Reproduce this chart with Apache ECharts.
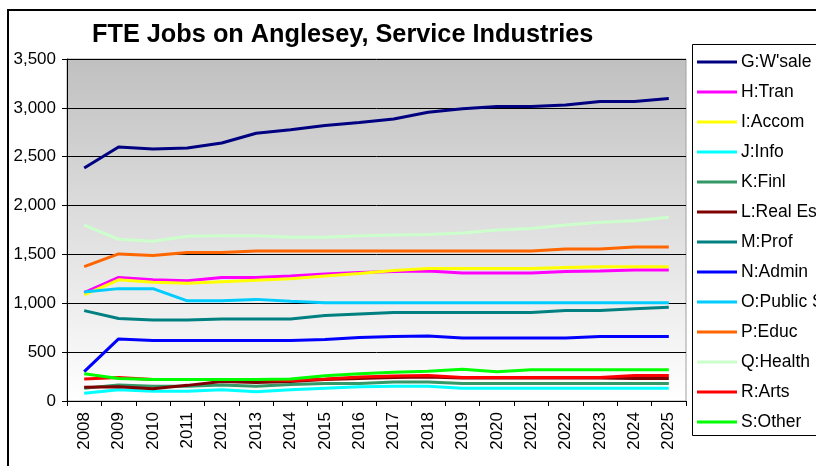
<!DOCTYPE html>
<html>
<head>
<meta charset="utf-8">
<script src="https://cdn.jsdelivr.net/npm/echarts@6/dist/echarts.min.js"></script>
<style>
  html, body { margin: 0; padding: 0; background: #fff; }
  #chart { width: 816px; height: 466px; }
</style>
</head>
<body>
<div id="chart"></div>
<script>
// FTE jobs on Anglesey by service industry, 2008-2025
const years = ['2008','2009','2010','2011','2012','2013','2014','2015','2016','2017','2018','2019','2020','2021','2022','2023','2024','2025'];
const yTicks = [0, 500, 1000, 1500, 2000, 2500, 3000, 3500];

const wsale   = [2385, 2600, 2580, 2590, 2640, 2740, 2775, 2820, 2850, 2885, 2955, 2990, 3015, 3015, 3030, 3065, 3065, 3095];
const tran    = [1110, 1265, 1240, 1230, 1265, 1265, 1280, 1300, 1315, 1325, 1330, 1310, 1310, 1310, 1325, 1330, 1340, 1340];
const accom   = [1085, 1240, 1215, 1205, 1220, 1235, 1250, 1280, 1305, 1335, 1355, 1355, 1355, 1355, 1365, 1375, 1375, 1375];
const info    = [80, 115, 100, 100, 115, 95, 115, 130, 145, 150, 150, 130, 130, 130, 130, 130, 130, 130];
const finl    = [130, 165, 150, 150, 165, 150, 170, 180, 180, 195, 195, 180, 180, 180, 180, 180, 180, 180];
const realEst = [140, 145, 125, 160, 200, 190, 200, 220, 230, 240, 245, 235, 235, 235, 235, 235, 230, 230];
const prof    = [925, 845, 830, 830, 840, 840, 840, 875, 890, 905, 905, 905, 905, 905, 925, 925, 945, 960];
const admin   = [300, 635, 620, 620, 620, 620, 620, 630, 650, 660, 665, 645, 645, 645, 645, 660, 660, 660];
const publicS = [1115, 1150, 1150, 1025, 1025, 1040, 1020, 1005, 1005, 1005, 1005, 1005, 1005, 1005, 1005, 1005, 1005, 1005];
const educ    = [1375, 1505, 1490, 1520, 1520, 1535, 1535, 1535, 1535, 1535, 1535, 1535, 1535, 1535, 1555, 1555, 1575, 1575];
const health  = [1800, 1655, 1635, 1685, 1690, 1690, 1675, 1675, 1690, 1700, 1705, 1720, 1750, 1765, 1800, 1830, 1845, 1880];
const arts    = [225, 240, 220, 220, 220, 220, 210, 225, 245, 255, 260, 240, 240, 240, 240, 240, 260, 260];
const other   = [280, 230, 220, 220, 220, 220, 225, 258, 280, 295, 305, 325, 300, 320, 320, 320, 320, 320];

const seriesNames  = ["G:W'sale", 'H:Tran', 'I:Accom', 'J:Info', 'K:Finl', 'L:Real Est', 'M:Prof', 'N:Admin', 'O:Public S', 'P:Educ', 'Q:Health', 'R:Arts', 'S:Other'];
const seriesData   = [wsale, tran, accom, info, finl, realEst, prof, admin, publicS, educ, health, arts, other];
const seriesColors = ['#000080', '#ff00ff', '#ffff00', '#00ffff', '#339966', '#800000', '#008080', '#0000ff', '#00ccff', '#ff6600', '#ccffcc', '#ff0000', '#00ff00'];

const FONT = 'Liberation Sans, Arial, sans-serif';

const chart = echarts.init(document.getElementById('chart'), null, { renderer: 'canvas' });

chart.setOption({
  animation: false,
  backgroundColor: '#ffffff',
  title: {
    text: 'FTE Jobs on Anglesey, Service Industries',
    left: 92,
    top: 23,
    padding: 0,
    textStyle: { fontFamily: FONT, fontSize: 25.3, fontWeight: 'bold', color: '#000' }
  },
  graphic: [
    { type: 'rect', shape: { x: 8, y: 10, width: 830, height: 480 }, style: { fill: 'none', stroke: '#000', lineWidth: 2 }, z: -1 },
    { type: 'rect', shape: { x: 692.5, y: 44.5, width: 140, height: 391 }, style: { fill: '#fff', stroke: '#000', lineWidth: 1 }, z: 0 }
  ],
  legend: {
    orient: 'vertical',
    left: 697,
    top: 53,
    padding: 0,
    icon: 'rect',
    itemWidth: 40,
    itemHeight: 3,
    itemGap: 12,
    z: 5,
    textStyle: { fontFamily: FONT, fontSize: 17.5, lineHeight: 17, color: '#000', padding: [0, 0, 0, -1] },
    data: seriesNames
  },
  grid: {
    left: 67, top: 59, right: 130, bottom: 65,
    show: true,
    borderColor: '#a0a0a0',
    borderWidth: 1,
    backgroundColor: new echarts.graphic.LinearGradient(0, 0, 0, 1, [
      { offset: 0, color: '#c0c0c0' },
      { offset: 1, color: '#ffffff' }
    ])
  },
  xAxis: {
    type: 'category',
    data: years,
    boundaryGap: true,
    axisLine: { lineStyle: { color: '#000', width: 1 } },
    axisTick: { show: true, length: 5, lineStyle: { color: '#000' } },
    axisLabel: { rotate: 90, margin: 11, fontFamily: FONT, fontSize: 17, color: '#000' }
  },
  yAxis: {
    type: 'value',
    min: yTicks[0],
    max: yTicks[yTicks.length - 1],
    interval: 500,
    axisLine: { show: true, lineStyle: { color: '#000', width: 1 } },
    axisTick: { show: true, length: 5, lineStyle: { color: '#000' } },
    splitLine: { lineStyle: { color: '#000', width: 1 } },
    axisLabel: {
      margin: 11,
      fontFamily: FONT, fontSize: 17, color: '#000',
      formatter: v => v.toLocaleString('en-US')
    }
  },
  series: seriesNames.map((name, i) => ({
    name,
    type: 'line',
    data: seriesData[i],
    symbol: 'none',
    color: seriesColors[i],
    lineStyle: { color: seriesColors[i], width: 3 },
    z: 2 + i
  }))
});
</script>
</body>
</html>
